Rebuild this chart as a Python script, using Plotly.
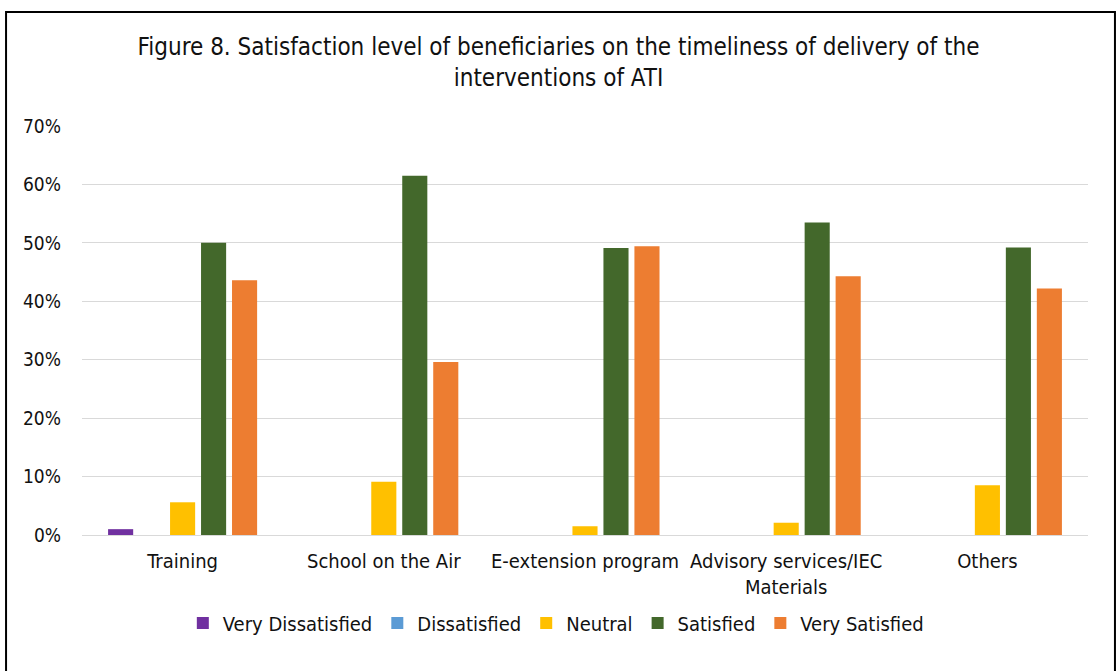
import plotly.graph_objects as go

categories = ["Training", "School on the Air", "E-extension program",
              "Advisory services/IEC<br>Materials", "Others"]
very_dissatisfied = [0.010, 0, 0, 0, 0]
dissatisfied = [0, 0, 0, 0, 0]
neutral = [0.056, 0.091, 0.015, 0.021, 0.085]
satisfied = [0.500, 0.615, 0.491, 0.535, 0.492]
very_satisfied = [0.436, 0.296, 0.494, 0.443, 0.422]

series = [
    ("Very Dissatisfied", very_dissatisfied, "#7030A0"),
    ("Dissatisfied", dissatisfied, "#5B9BD5"),
    ("Neutral", neutral, "#FFC000"),
    ("Satisfied", satisfied, "#43682B"),
    ("Very Satisfied", very_satisfied, "#ED7D31"),
]

FONT = "DejaVu Sans Condensed, Liberation Sans Narrow, sans-serif"
TXT = "#111111"

fig = go.Figure()
for name, vals, col in series:
    fig.add_trace(go.Bar(x=categories, y=vals, name=name,
                         marker=dict(color=col, line=dict(width=0))))

fig.update_layout(
    width=1117, height=671,
    margin=dict(l=82, r=29, t=126, b=136),
    paper_bgcolor="white", plot_bgcolor="white",
    barmode="group", bargap=0.23, bargroupgap=0.19,
    font=dict(family=FONT, size=20, color=TXT),
    title=dict(
        text="Figure 8. Satisfaction level of beneficiaries on the timeliness of delivery of the<br>interventions of ATI",
        x=0.5, xref="container", xanchor="center",
        y=0.918, yref="container", yanchor="top",
        font=dict(family=FONT, size=24, color=TXT),
    ),
    yaxis=dict(range=[0, 0.7], dtick=0.1, tickformat=".0%",
               showgrid=True, gridcolor="#D9D9D9", gridwidth=1,
               zeroline=True, zerolinecolor="#D9D9D9", zerolinewidth=1,
               showline=False, ticks="", ticklabelstandoff=20,
               tickfont=dict(size=19),
               fixedrange=True),
    xaxis=dict(showline=False, ticks="", ticklabelstandoff=12,
               tickangle=0, tickfont=dict(size=20)),
    legend=dict(orientation="h", x=0.471, xanchor="center",
                y=-0.215, yanchor="middle",
                font=dict(family=FONT, size=20, color=TXT),
                itemwidth=30, traceorder="normal"),
    shapes=[dict(type="rect", xref="paper", yref="paper",
                 x0=-0.0755, x1=1.0268, y0=-0.40, y1=1.2787,
                 line=dict(color="black", width=2),
                 fillcolor="rgba(0,0,0,0)", layer="above")],
)

fig.write_html("out.html")
